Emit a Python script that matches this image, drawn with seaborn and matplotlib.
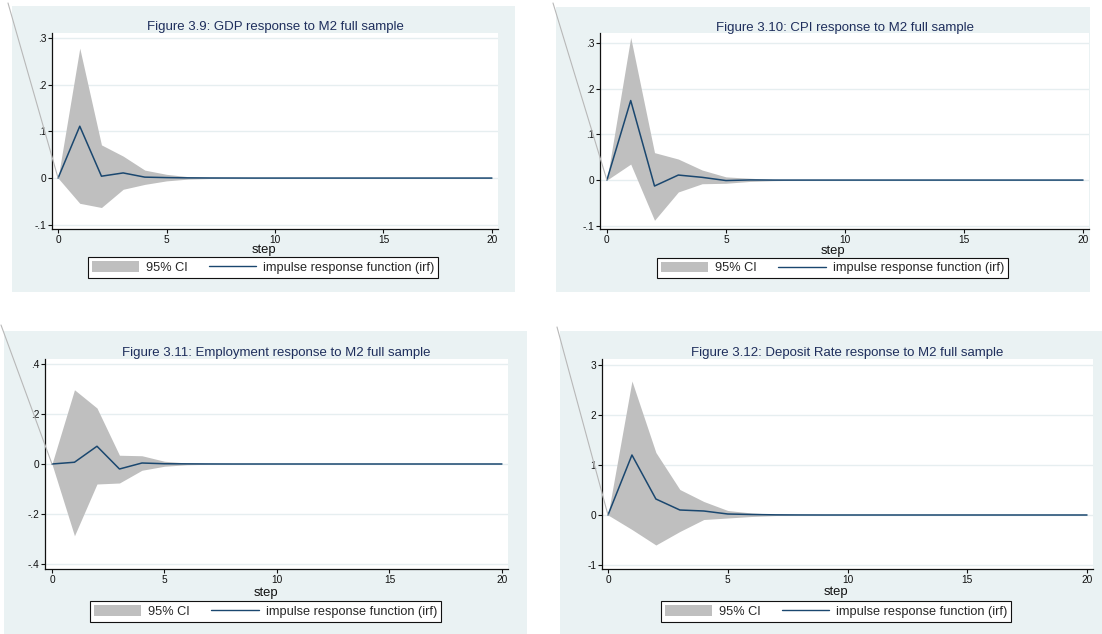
import matplotlib
matplotlib.use("Agg")
import matplotlib.pyplot as plt
import matplotlib.ticker as mticker
from matplotlib.patches import Rectangle, Patch, ConnectionPatch
from matplotlib.lines import Line2D
import numpy as np
import pandas as pd
import seaborn as sns

# ---- data: impulse responses to an M2 shock, steps 0..20 ----
steps = list(range(21))

gdp_irf   = [0, .111, .004, .011, .002, .001, .0004, .0002, .0001, 0, 0, 0, 0, 0, 0, 0, 0, 0, 0, 0, 0]
gdp_upper = [0, .278, .071, .047, .017, .008, .003, .0012, .0005, .0002, .0001, 0, 0, 0, 0, 0, 0, 0, 0, 0, 0]
gdp_lower = [0, -.054, -.063, -.024, -.0135, -.006, -.0022, -.0009, -.0004, -.0002, -.0001, 0, 0, 0, 0, 0, 0, 0, 0, 0, 0]

cpi_irf   = [0, .174, -.013, .011, .006, -.001, .0003, 0, 0, 0, 0, 0, 0, 0, 0, 0, 0, 0, 0, 0, 0]
cpi_upper = [0, .312, .060, .046, .022, .007, .004, .0015, .0006, .0002, 0, 0, 0, 0, 0, 0, 0, 0, 0, 0, 0]
cpi_lower = [0, .035, -.088, -.026, -.008, -.007, -.003, -.0012, -.0005, -.0002, 0, 0, 0, 0, 0, 0, 0, 0, 0, 0, 0]

emp_irf   = [0, .007, .071, -.020, .004, .001, .0005, .0002, 0, 0, 0, 0, 0, 0, 0, 0, 0, 0, 0, 0, 0]
emp_upper = [0, .297, .224, .035, .033, .011, .004, .0015, .0005, .0002, 0, 0, 0, 0, 0, 0, 0, 0, 0, 0, 0]
emp_lower = [0, -.287, -.080, -.076, -.025, -.009, -.003, -.0012, -.0005, -.0002, 0, 0, 0, 0, 0, 0, 0, 0, 0, 0, 0]

dep_irf   = [0, 1.20, .32, .10, .08, .02, .01, .003, .001, 0, 0, 0, 0, 0, 0, 0, 0, 0, 0, 0, 0]
dep_upper = [0, 2.68, 1.25, .51, .27, .09, .04, .015, .005, .002, .001, 0, 0, 0, 0, 0, 0, 0, 0, 0, 0]
dep_lower = [0, -.29, -.60, -.33, -.09, -.06, -.03, -.01, -.004, -.001, 0, 0, 0, 0, 0, 0, 0, 0, 0, 0, 0]

titles = [
    "Figure 3.9: GDP response to M2 full sample",
    "Figure 3.10: CPI response to M2 full sample",
    "Figure 3.11: Employment response to M2 full sample",
    "Figure 3.12: Deposit Rate response to M2 full sample",
]
yticks = [
    [-.1, 0, .1, .2, .3],
    [-.1, 0, .1, .2, .3],
    [-.4, -.2, 0, .2, .4],
    [-1, 0, 1, 2, 3],
]
xticks = [0, 5, 10, 15, 20]
legend_labels = ["95% CI", "impulse response function (irf)"]
xlabel = "step"

series = [
    (gdp_irf, gdp_lower, gdp_upper),
    (cpi_irf, cpi_lower, cpi_upper),
    (emp_irf, emp_lower, emp_upper),
    (dep_irf, dep_lower, dep_upper),
]

# ---- styling ----
sns.set_theme(style="white")
plt.rcParams["font.family"] = ["Liberation Sans", "DejaVu Sans"]

W, H = 1102, 634
BG = "#EAF2F3"
GRID = "#E6EEF0"
NAVY = "#1A476F"
CI = "#BFBFBF"
TITLE_C = "#1E2E5C"

fig = plt.figure(figsize=(W / 100, H / 100), dpi=100)
fig.patch.set_facecolor("white")


def fx(px):
    return px / W


def fy(py):
    return 1 - py / H


# layout of each panel in pixels
panels = [
    dict(bg=(12, 6, 515, 292), ax=(52, 33, 498, 229), xlim=(-0.28, 20.28), ylim=(-0.109, 0.3105),
         title=(275, 26), step=(264, 250), leg=(263, 267.5), diag=(8, 3)),
    dict(bg=(556, 7, 1090, 292), ax=(600, 33, 1089, 229), xlim=(-0.29, 20.25), ylim=(-0.107, 0.3217),
         title=(845, 27), step=(833, 251), leg=(832.5, 268), diag=(553, 3)),
    dict(bg=(4, 331, 527, 634), ax=(45, 359, 508, 569), xlim=(-0.31, 20.27), ylim=(-0.42, 0.42),
         title=(276, 352), step=(266, 593), leg=(265.5, 611.5), diag=(1, 325)),
    dict(bg=(560, 331, 1102, 634), ax=(602, 359, 1093, 569), xlim=(-0.25, 20.25), ylim=(-1.08, 3.12),
         title=(847, 352), step=(836, 592), leg=(836, 611.5), diag=(557, 327)),
]


def stata_fmt(v, pos=None):
    if abs(v) < 1e-12:
        return "0"
    s = ("%g" % v)
    s = s.replace("0.", ".")
    return s


for p, title, yt, (irf, lo, hi) in zip(panels, titles, yticks, series):
    # graph region
    x0, y0, x1, y1 = p["bg"]
    fig.add_artist(Rectangle((fx(x0), fy(y1)), fx(x1 - x0), (y1 - y0) / H,
                             transform=fig.transFigure, facecolor=BG, edgecolor="none", zorder=0))
    # plot region
    a0, b0, a1, b1 = p["ax"]
    ax = fig.add_axes([fx(a0), fy(b1), fx(a1 - a0), (b1 - b0) / H])
    ax.set_facecolor("white")
    ax.set_zorder(2)

    df = pd.DataFrame({"step": steps, "irf": irf, "lower": lo, "upper": hi})
    ax.fill_between(df["step"], df["lower"], df["upper"], color=CI, linewidth=0, zorder=2)
    sns.lineplot(data=df, x="step", y="irf", ax=ax, color=NAVY, linewidth=1.1, zorder=3)

    ax.set_xlim(*p["xlim"])
    ax.set_ylim(*p["ylim"])
    ax.set_xticks(xticks)
    ax.set_yticks(yt)
    ax.yaxis.set_major_formatter(mticker.FuncFormatter(stata_fmt))
    ax.xaxis.set_major_formatter(mticker.FuncFormatter(stata_fmt))
    for yv in yt:
        ax.axhline(yv, color=GRID, linewidth=1.0, zorder=1)
    ax.grid(False)
    ax.set_xlabel("")
    ax.set_ylabel("")
    for side in ["top", "right"]:
        ax.spines[side].set_visible(False)
    for side in ["left", "bottom"]:
        ax.spines[side].set_color("#111111")
        ax.spines[side].set_linewidth(0.9)
    ax.tick_params(axis="both", which="major", direction="out", length=3, width=0.8,
                   color="#111111", labelsize=7.3, pad=1.2, labelcolor="#111111",
                   left=True, bottom=True)

    # titles and axis label
    fig.text(fx(p["title"][0]), fy(p["title"][1] + 1), title, ha="center", va="center",
             fontsize=9.5, color=TITLE_C)
    fig.text(fx(p["step"][0]), fy(p["step"][1]), xlabel, ha="center", va="center",
             fontsize=9.4, color="#111111")

    # legend
    handles = [Patch(facecolor=CI, edgecolor="none"),
               Line2D([], [], color=NAVY, linewidth=1.0)]
    leg = fig.legend(handles, legend_labels, loc="center",
                     bbox_to_anchor=(fx(p["leg"][0]), fy(p["leg"][1])),
                     bbox_transform=fig.transFigure, ncol=2, frameon=True, fancybox=False,
                     edgecolor="#111111", facecolor="white", framealpha=1, fontsize=9.2,
                     handlelength=3.7, handleheight=0.9, handletextpad=0.55,
                     columnspacing=1.65, borderpad=0.3, borderaxespad=0)
    leg.get_frame().set_linewidth(0.8)
    leg.set_zorder(3)

    # thin diagonal guide running into the origin of the response
    con = ConnectionPatch(xyA=(fx(p["diag"][0]), fy(p["diag"][1])), coordsA=fig.transFigure,
                          xyB=(0, 0), coordsB=ax.transData, color="#B8B8B8", linewidth=0.8)
    fig.add_artist(con)
    con.set_zorder(5)

fig.savefig("out.png", dpi=100)
